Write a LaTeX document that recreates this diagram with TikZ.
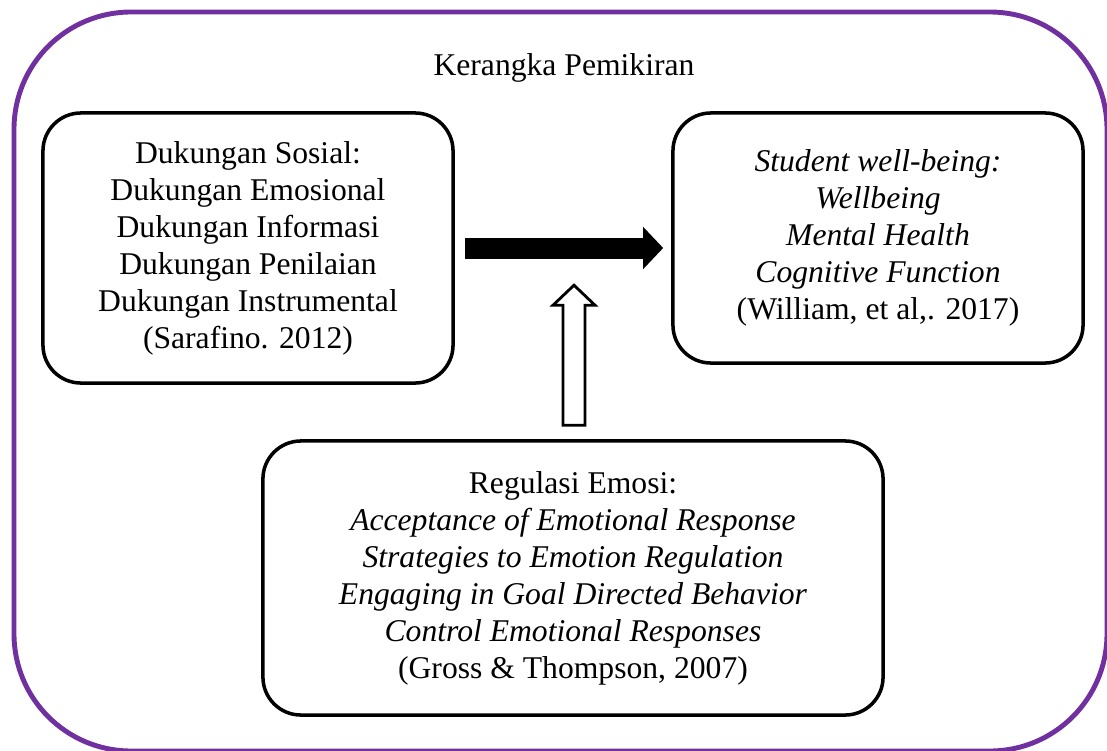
\documentclass[tikz,border=0pt]{standalone}
\usepackage{fontspec}
\setmainfont{Liberation Serif}
\usetikzlibrary{arrows.meta,calc}
\definecolor{framepurple}{HTML}{7030A0}
\begin{document}
\begin{tikzpicture}[x=0.025cm, y=-0.025cm,
        font=\fontsize{22.5}{26.3}\selectfont,
        box/.style={draw, rounded corners=0.95cm, line width=2.5pt, align=center},
        fatarrow/.style={line width=0.525cm, -{Triangle[length=0.5cm, width=1.025cm]}}]
        \useasboundingbox (0,0) rectangle (1107,751);

        % Outer frame
        \draw[framepurple, line width=3.5pt, rounded corners=2.925cm] (14,12) rectangle (1107,751);

        % Title
        \node (T) at (564,68) {Kerangka Pemikiran};

        % Dukungan sosial (left)
        \node[box, minimum width=10.25cm, minimum height=6.75cm] (DS) at (248,248) {Dukungan Sosial:\\
            Dukungan Emosional\\ Dukungan Informasi\\ Dukungan Penilaian\\
            Dukungan Instrumental\\ (Sarafino. 2012)};

        % Student well-being (right)
        \node[box, minimum width=10.25cm, minimum height=6.25cm] (SW) at (878,238) {\textit{Student well-being:}\\
            \textit{Wellbeing}\\ \textit{Mental Health}\\ \textit{Cognitive Function}\\
            (William, et al,. 2017)};

        % Regulasi emosi (bottom)
        \node[box, minimum width=15.5cm, minimum height=6.85cm] (RE) at (573,578) {Regulasi Emosi:\\
            \textit{Acceptance of Emotional Response}\\ \textit{Strategies to Emotion Regulation}\\
            \textit{Engaging in Goal Directed Behavior}\\ \textit{Control Emotional Responses}\\
            (Gross \& Thompson, 2007)};

        % Connect left box to right box
        \draw[fatarrow, shorten <=0.25cm, shorten >=0.2cm] (DS.east) -- (DS.east -| SW.west);

        % Hollow arrow from bottom box
        \coordinate (U) at ($(RE.north)+(1,-14)$);
        \draw[line width=2pt, line join=miter] ($(U)+(-11,0)$) -- ++(0,-120) -- ++(-10,0)
            -- ++(21,-20) -- ++(21,20) -- ++(-10,0) -- ++(0,120) -- cycle;
    \end{tikzpicture}
\end{document}
